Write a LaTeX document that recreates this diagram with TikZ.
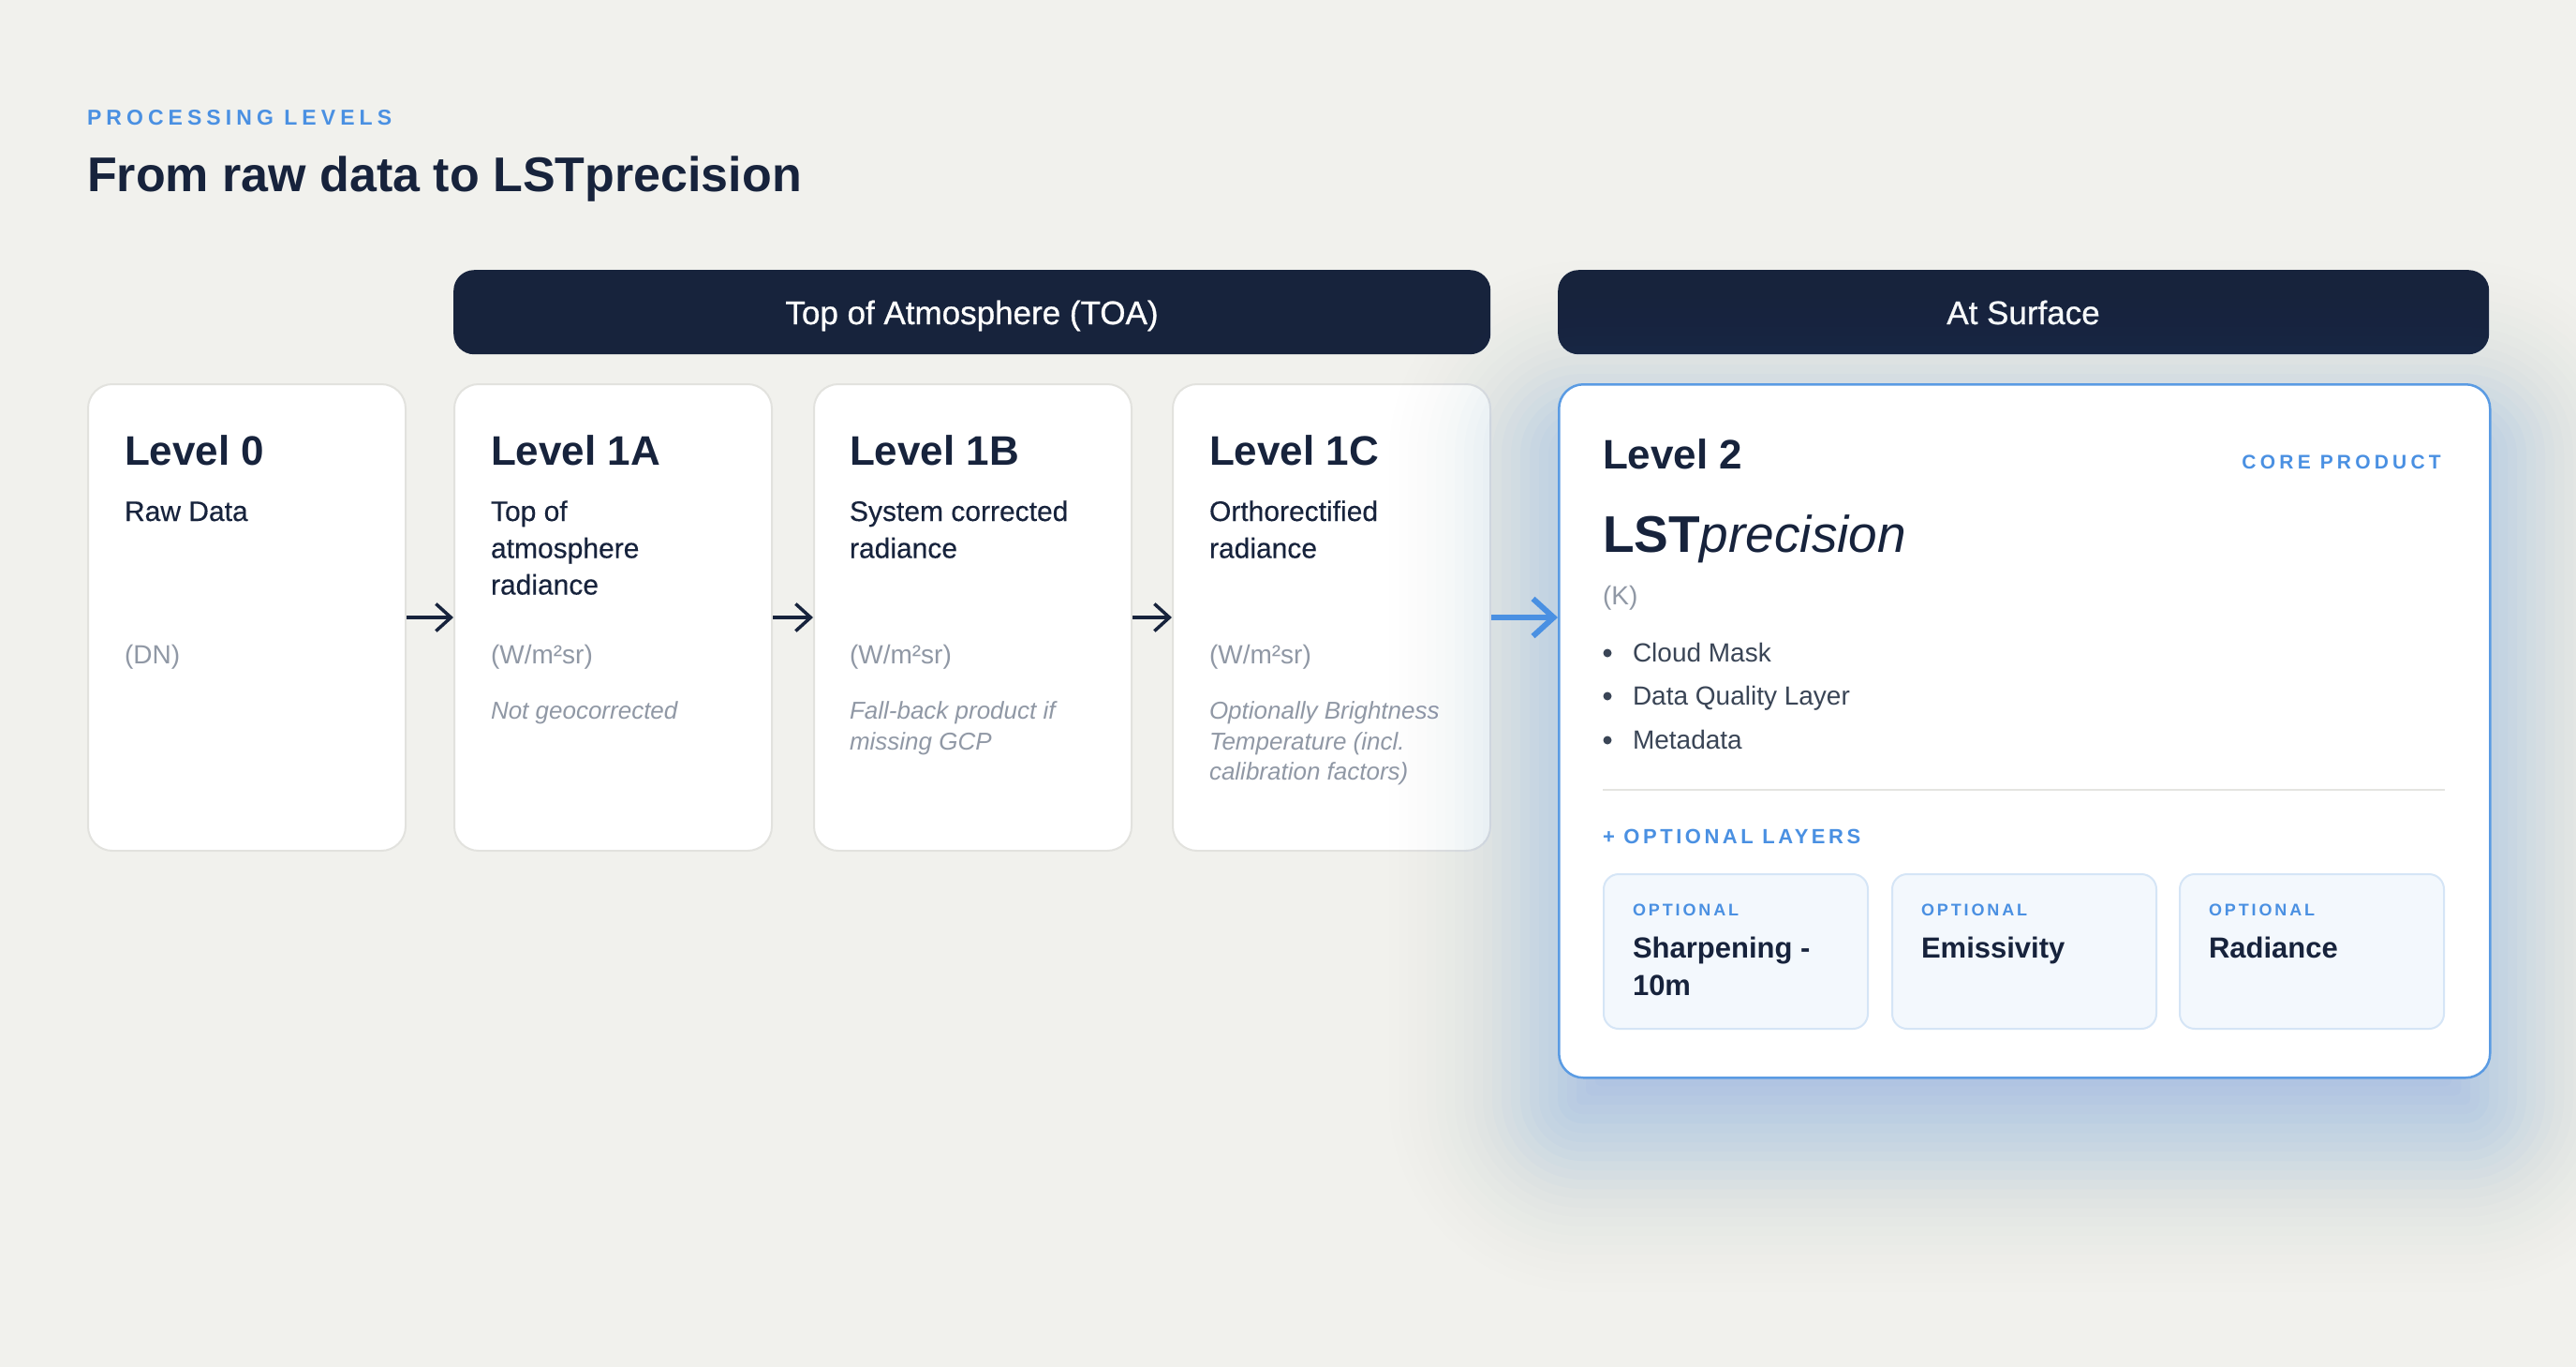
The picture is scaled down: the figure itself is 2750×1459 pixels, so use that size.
\documentclass[tikz,border=0pt]{standalone}
\usepackage{fontspec}
\setmainfont{Liberation Sans}
\usetikzlibrary{arrows.meta}
\definecolor{bg}{HTML}{F1F1ED}
\definecolor{navy}{HTML}{17233C}
\definecolor{accent}{HTML}{4A90E2}
\definecolor{edgeblue}{HTML}{5A9BE3}
\definecolor{mutedgray}{HTML}{9098A5}
\definecolor{slate}{HTML}{3A4556}
\definecolor{cardedge}{HTML}{E2E2DE}
\definecolor{divline}{HTML}{E4E4E0}
\definecolor{optfill}{HTML}{F3F8FD}
\definecolor{optedge}{HTML}{D5E5F6}
\definecolor{glowc}{HTML}{4A90E2}
\begin{document}
\begin{tikzpicture}[x=1pt,y=-1pt,
  txt/.style={anchor=base west, inner sep=0pt, outer sep=0pt},
  card/.style={draw=cardedge, line width=2pt, fill=white, rounded corners=26pt, anchor=north west, inner sep=0pt},
  bar/.style={fill=navy, rounded corners=22pt, anchor=north west, inner sep=0pt},
  bartext/.style={anchor=base, inner sep=0pt, text=white, font=\fontsize{35}{40}\selectfont\addfontfeatures{FakeBold=0.8}},
  lvltitle/.style={txt, text=navy, font=\fontsize{44}{50}\selectfont\bfseries},
  subtxt/.style={txt, text=navy, font=\fontsize{30}{36}\selectfont\addfontfeatures{FakeBold=0.3}},
  unittxt/.style={txt, text=mutedgray, font=\fontsize{28}{32}\selectfont},
  notetxt/.style={txt, text=mutedgray, font=\fontsize{26}{32}\selectfont\itshape},
  bullettxt/.style={txt, text=slate, font=\fontsize{28}{34}\selectfont},
  optcard/.style={draw=optedge, line width=2pt, fill=optfill, rounded corners=16pt, anchor=north west, inner sep=0pt, minimum width=282pt, minimum height=165pt},
  optlabel/.style={txt, text=accent, font=\fontsize{18}{22}\selectfont\bfseries\addfontfeatures{LetterSpace=16}},
  optname/.style={txt, text=navy, font=\fontsize{31}{38}\selectfont\bfseries},
  arr/.style={draw=navy, line width=3.5pt, -{Straight Barb[length=16pt, width=29pt]}},
  bluearr/.style={draw=accent, line width=6pt, -{Straight Barb[length=22pt, width=40pt]}}
]
\useasboundingbox (0,0) rectangle (2750,1459);
\fill[bg] (0,0) rectangle (2750,1459);

% header
\node[txt, text=accent, font=\fontsize{23}{28}\selectfont\bfseries\addfontfeatures{LetterSpace=22}] (kicker) at (93,133) {PROCESSING LEVELS};
\node[txt, text=navy, font=\fontsize{52}{60}\selectfont\bfseries] (title) at (93,204) {From raw data to LSTprecision};

% bars
\node[bar, minimum width=1107pt, minimum height=90pt] (toa) at (484,288) {};
\node[bartext] (toatext) at (1037.5,346) {Top of Atmosphere (TOA)};
\node[bar, minimum width=994pt, minimum height=90pt] (surf) at (1663,288) {};
\node[bartext] (surftext) at (2160,346) {At Surface};

% level cards
\node[card, minimum width=339pt, minimum height=498pt] (c0) at (93,409) {};
\node[card, minimum width=339pt, minimum height=498pt] (c1a) at (484,409) {};
\node[card, minimum width=339pt, minimum height=498pt] (c1b) at (868,409) {};
\node[card, minimum width=339pt, minimum height=498pt] (c1c) at (1251,409) {};

% level 0
\node[lvltitle] (t0) at (133,496) {Level 0};
\node[subtxt] (s0) at (133,556) {Raw Data};
\node[unittxt] (u0) at (133,708) {(DN)};

% level 1A
\node[lvltitle] (t1a) at (524,496) {Level 1A};
\node[subtxt] (s1a1) at (524,556) {Top of};
\node[subtxt] (s1a2) at (524,595.5) {atmosphere};
\node[subtxt] (s1a3) at (524,634.5) {radiance};
\node[unittxt] (u1a) at (524,708) {(W/m²sr)};
\node[notetxt] (n1a) at (524,767) {Not geocorrected};

% level 1B
\node[lvltitle] (t1b) at (907,496) {Level 1B};
\node[subtxt] (s1b1) at (907,556) {System corrected};
\node[subtxt] (s1b2) at (907,595.5) {radiance};
\node[unittxt] (u1b) at (907,708) {(W/m²sr)};
\node[notetxt] (n1b1) at (907,767) {Fall-back product if};
\node[notetxt] (n1b2) at (907,800) {missing GCP};

% level 1C
\node[lvltitle] (t1c) at (1291,496) {Level 1C};
\node[subtxt] (s1c1) at (1291,556) {Orthorectified};
\node[subtxt] (s1c2) at (1291,595.5) {radiance};
\node[unittxt] (u1c) at (1291,708) {(W/m²sr)};
\node[notetxt] (n1c1) at (1291,767) {Optionally Brightness};
\node[notetxt] (n1c2) at (1291,800) {Temperature (incl.};
\node[notetxt] (n1c3) at (1291,832.5) {calibration factors)};

% arrows between TOA cards
\draw[arr] (c0.east) -- (c1a.west);
\draw[arr] (c1a.east) -- (c1b.west);
\draw[arr] (c1b.east) -- (c1c.west);

% soft blue glow of the level 2 card (gaussian-like stack)
\foreach \s in {-150,-140,...,200}{
  \pgfmathsetmacro{\rr}{max(26+\s,6)}
  \pgfmathsetmacro{\op}{0.029*exp(-((\s)/113.137)^2)}
  \fill[glowc, fill opacity=\op, rounded corners=\rr pt] ({1663-(\s)},{459-(\s)}) rectangle ({2657+(\s)},{1199+(\s)});
}

% level 2 card
\node[card, draw=edgeblue, line width=2.5pt, minimum width=994pt, minimum height=740pt] (c2) at (1663,409) {};
\draw[bluearr] (c1c.east) -- (c1c.east -| c2.west);

\node[lvltitle] (t2) at (1711,500) {Level 2};
\node[anchor=base east, inner sep=0pt, text=accent, font=\fontsize{21}{26}\selectfont\bfseries\addfontfeatures{LetterSpace=20}] (core) at (2606,500) {CORE PRODUCT};
\node[txt, text=navy] (lst) at (1711,589) {\fontsize{55}{62}\selectfont\bfseries LST\mdseries\itshape precision};
\node[unittxt] (u2) at (1711,645.5) {(K)};

\fill[slate] (1716,697) circle (4.5pt);
\node[bullettxt] (b1) at (1743,706) {Cloud Mask};
\fill[slate] (1716,743) circle (4.5pt);
\node[bullettxt] (b2) at (1743,752) {Data Quality Layer};
\fill[slate] (1716,790) circle (4.5pt);
\node[bullettxt] (b3) at (1743,799) {Metadata};

\draw[divline, line width=2pt] (1711,843) -- (2610,843);

\node[txt, text=accent, font=\fontsize{22}{26}\selectfont\bfseries\addfontfeatures{LetterSpace=16}] (optlayers) at (1711,900) {+ OPTIONAL LAYERS};

\node[optcard] (o1) at (1711,932) {};
\node[optcard] (o2) at (2019,932) {};
\node[optcard] (o3) at (2326,932) {};

\node[optlabel] (o1l) at (1743,977) {OPTIONAL};
\node[optname] (o1n1) at (1743,1022) {Sharpening -};
\node[optname] (o1n2) at (1743,1062) {10m};
\node[optlabel] (o2l) at (2051,977) {OPTIONAL};
\node[optname] (o2n) at (2051,1022) {Emissivity};
\node[optlabel] (o3l) at (2358,977) {OPTIONAL};
\node[optname] (o3n) at (2358,1022) {Radiance};
\end{tikzpicture}
\end{document}
